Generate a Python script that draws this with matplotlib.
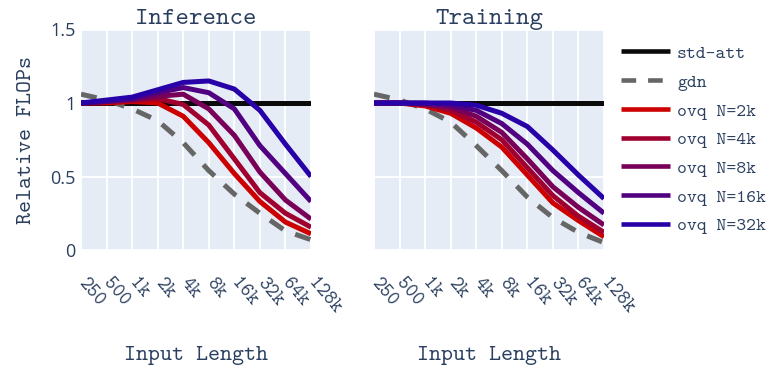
import matplotlib.pyplot as plt
from matplotlib.lines import Line2D
import numpy as np

lengths = ['250', '500', '1k', '2k', '4k', '8k', '16k', '32k', '64k', '128k']

inf_std = [1, 1, 1, 1, 1, 1, 1, 1, 1, 1]
inf_gdn = [1.06, 1.02, 0.96, 0.88, 0.73, 0.54, 0.38, 0.25, 0.13, 0.07]
inf_2k = [1.0, 1.0, 1.01, 1.0, 0.91, 0.73, 0.52, 0.33, 0.19, 0.11]
inf_4k = [1.0, 1.01, 1.02, 1.03, 0.99, 0.85, 0.62, 0.39, 0.25, 0.155]
inf_8k = [1.0, 1.01, 1.02, 1.045, 1.06, 0.96, 0.78, 0.53, 0.34, 0.21]
inf_16k = [1.0, 1.01, 1.03, 1.07, 1.105, 1.07, 0.96, 0.71, 0.52, 0.33]
inf_32k = [1.0, 1.02, 1.04, 1.09, 1.14, 1.15, 1.095, 0.95, 0.72, 0.50]

tr_std = [1, 1, 1, 1, 1, 1, 1, 1, 1, 1]
tr_gdn = [1.06, 1.02, 0.96, 0.87, 0.71, 0.54, 0.36, 0.22, 0.12, 0.05]
tr_2k = [1.0, 1.0, 0.98, 0.93, 0.83, 0.70, 0.51, 0.32, 0.20, 0.09]
tr_4k = [1.0, 1.0, 0.99, 0.95, 0.87, 0.75, 0.56, 0.37, 0.23, 0.12]
tr_8k = [1.0, 1.0, 0.99, 0.97, 0.91, 0.80, 0.62, 0.43, 0.29, 0.17]
tr_16k = [1.0, 1.0, 1.0, 0.985, 0.95, 0.86, 0.72, 0.54, 0.39, 0.25]
tr_32k = [1.0, 1.0, 1.0, 1.0, 0.985, 0.93, 0.84, 0.68, 0.51, 0.35]

names = ['std-att', 'gdn', 'ovq N=2k', 'ovq N=4k', 'ovq N=8k', 'ovq N=16k', 'ovq N=32k']
colors = ['#0a0a0a', '#666666', '#cc0000', '#a00030', '#780058', '#500080', '#2800a8']

mono = 'Latin Modern Mono'
ink = '#2a3f5f'

fig = plt.figure(figsize=(7.74, 3.69), dpi=100)
ax1 = fig.add_axes([81 / 774, 119 / 369, 230 / 774, 220.5 / 369])
ax2 = fig.add_axes([374 / 774, 119 / 369, 230 / 774, 220.5 / 369])

panels = [
    (ax1, 'Inference', [inf_std, inf_gdn, inf_2k, inf_4k, inf_8k, inf_16k, inf_32k]),
    (ax2, 'Training', [tr_std, tr_gdn, tr_2k, tr_4k, tr_8k, tr_16k, tr_32k]),
]

x = np.arange(len(lengths))
for ax, title, series in panels:
    ax.set_facecolor('#E5ECF6')
    for s, c, n in zip(series, colors, names):
        ls = (0, (3.2, 2.6)) if n == 'gdn' else '-'
        ax.plot(x, s, color=c, lw=3.6, ls=ls, solid_capstyle='butt')
    ax.set_xlim(0, len(lengths) - 1)
    ax.set_ylim(0, 1.5)
    ax.set_xticks(x)
    ax.set_xticklabels(lengths, rotation=-50, ha='left', va='center',
                       rotation_mode='anchor', family=mono, fontsize=14, color=ink)
    ax.set_yticks([0, 0.5, 1, 1.5])
    ax.grid(True, color='white', lw=1.3)
    ax.set_axisbelow(True)
    ax.tick_params(length=0, pad=22, axis='x')
    ax.tick_params(length=0, axis='y', pad=4)
    for sp in ax.spines.values():
        sp.set_visible(False)
    ax.set_title(title, family=mono, fontsize=18.5, color=ink, pad=2)
    ax.set_xlabel('Input Length', family=mono, fontsize=16.5, color=ink, labelpad=20)

ax1.set_yticklabels(['0', '0.5', '1', '1.5'], family='Open Sans', fontsize=13, color=ink)
ax2.set_yticklabels([])
ax1.set_ylabel('Relative FLOPs', family=mono, fontsize=16.5, color=ink, labelpad=10)

handles = []
for c, n in zip(colors, names):
    ls = (0, (3.2, 2.6)) if n == 'gdn' else '-'
    handles.append(Line2D([], [], color=c, lw=3.3, ls=ls, solid_capstyle='butt'))
leg = fig.legend(handles, names, loc='upper left', bbox_to_anchor=(604 / 774, 1 - 28 / 369),
                 frameon=False, handlelength=2.6, handletextpad=0.4, labelspacing=0.62,
                 prop={'family': mono, 'size': 13.5})
for t in leg.get_texts():
    t.set_color(ink)

plt.savefig('out.png')
